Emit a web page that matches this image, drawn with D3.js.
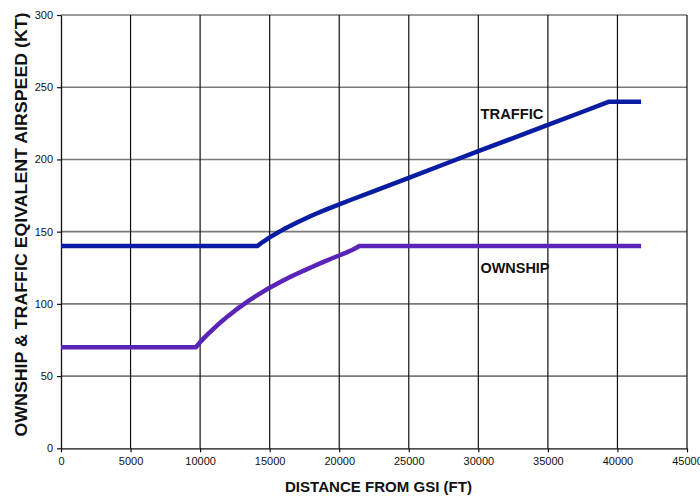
<!DOCTYPE html>
<html>
<head>
<meta charset="utf-8">
<script src="https://cdn.jsdelivr.net/npm/d3@7"></script>
<style>
  html, body { margin: 0; padding: 0; background: #fff; }
  svg { display: block; font-family: Arial, "Liberation Sans", sans-serif; }
</style>
</head>
<body>
<svg id="chart" width="700" height="496"></svg>
<script>
// Distance from GSI (ft) vs. equivalent airspeed (kt)
const trafficDist  = [0, 14100, 14500, 15000, 15500, 16000, 16500, 17000, 17500, 18000, 18500, 19000, 19500, 20000, 21000, 22500, 25000, 27500, 30000, 32500, 35000, 37500, 39400, 41700];
const trafficSpeed = [140, 140, 142.8, 146, 148.9, 151.6, 154.1, 156.5, 158.8, 161.0, 163.1, 165.1, 167.0, 168.9, 172.6, 178.0, 187.2, 196.5, 205.7, 214.8, 223.9, 233.0, 240, 240];

const ownDist  = [0, 9700, 10000, 10500, 11000, 11500, 12000, 12500, 13000, 13500, 14000, 14500, 15000, 15500, 16000, 16500, 17000, 17500, 18000, 18500, 19000, 19500, 20000, 20500, 21000, 21450, 41700];
const ownSpeed = [70, 70, 73.5, 78.5, 83, 87.5, 91.5, 95.3, 98.8, 102.2, 105.3, 108.3, 111.2, 113.8, 116.3, 118.7, 121.0, 123.2, 125.4, 127.5, 129.6, 131.6, 133.5, 135.5, 137.6, 140, 140];

const xTicks = [0, 5000, 10000, 15000, 20000, 25000, 30000, 35000, 40000, 45000];
const yTicks = [0, 50, 100, 150, 200, 250, 300];

const seriesLabels = ["TRAFFIC", "OWNSHIP"];
const xTitle = "DISTANCE FROM GSI (FT)";
const yTitle = "OWNSHIP & TRAFFIC EQIVALENT AIRSPEED (KT)";

const svg = d3.select("#chart");
const plot = { left: 61, right: 687, top: 15, bottom: 448.3 };

const x = d3.scaleLinear().domain([0, 45000]).range([plot.left, plot.right]);
const y = d3.scaleLinear().domain([0, 300]).range([plot.bottom, plot.top]);

// horizontal gridlines (gray)
svg.append("g").selectAll("line")
  .data(yTicks.filter(d => d > 0))
  .join("line")
  .attr("x1", plot.left).attr("x2", plot.right)
  .attr("y1", d => y(d)).attr("y2", d => y(d))
  .attr("stroke", "#7a7a7a").attr("stroke-width", 1.6);

// vertical gridlines (black)
svg.append("g").selectAll("line")
  .data(xTicks.filter(d => d > 0))
  .join("line")
  .attr("x1", d => x(d)).attr("x2", d => x(d))
  .attr("y1", plot.top).attr("y2", plot.bottom)
  .attr("stroke", "#111").attr("stroke-width", 1.2);

// x axis
const xAxis = svg.append("g")
  .attr("transform", `translate(0,${plot.bottom})`)
  .call(d3.axisBottom(x).tickValues(xTicks).tickSize(4).tickSizeOuter(0).tickFormat(d3.format("d")));
xAxis.select(".domain").attr("stroke", "#111").attr("stroke-width", 1.3);
xAxis.selectAll(".tick line").attr("stroke", "#111").attr("stroke-width", 1.2);
xAxis.selectAll("text").attr("font-size", 11).attr("fill", "#111").attr("dy", "0.9em")
  .attr("font-family", "Arial, 'Liberation Sans', sans-serif");

// y axis
const yAxis = svg.append("g")
  .attr("transform", `translate(${plot.left},0)`)
  .call(d3.axisLeft(y).tickValues(yTicks).tickSize(4).tickSizeOuter(0).tickPadding(4));
yAxis.select(".domain").attr("stroke", "#111").attr("stroke-width", 1.3);
yAxis.selectAll(".tick line").attr("stroke", "#111").attr("stroke-width", 1.2);
yAxis.selectAll("text").attr("font-size", 11).attr("fill", "#111")
  .attr("font-family", "Arial, 'Liberation Sans', sans-serif");

const line = d3.line().x(d => x(d[0])).y(d => y(d[1]));

svg.append("path")
  .datum(trafficDist.map((d, i) => [d, trafficSpeed[i]]))
  .attr("d", line)
  .attr("fill", "none").attr("stroke", "#0a1ca2").attr("stroke-width", 4.5)
  .attr("stroke-linejoin", "round");

svg.append("path")
  .datum(ownDist.map((d, i) => [d, ownSpeed[i]]))
  .attr("d", line)
  .attr("fill", "none").attr("stroke", "#5a24b6").attr("stroke-width", 4.5)
  .attr("stroke-linejoin", "round");

// series labels
svg.append("text").attr("x", 480.5).attr("y", 119.3)
  .attr("font-size", 14.5).attr("font-weight", "bold").attr("fill", "#111")
  .attr("textLength", 63).attr("lengthAdjust", "spacingAndGlyphs")
  .text(seriesLabels[0]);
svg.append("text").attr("x", 480.5).attr("y", 273.3)
  .attr("font-size", 14.5).attr("font-weight", "bold").attr("fill", "#111")
  .attr("textLength", 69).attr("lengthAdjust", "spacingAndGlyphs")
  .text(seriesLabels[1]);

// axis titles
svg.append("text").attr("x", 378.5).attr("y", 491.7)
  .attr("text-anchor", "middle").attr("font-size", 15).attr("font-weight", "bold").attr("fill", "#111")
  .attr("textLength", 187).attr("lengthAdjust", "spacingAndGlyphs")
  .text(xTitle);
svg.append("text")
  .attr("transform", "translate(26.5,224.5) rotate(-90)")
  .attr("text-anchor", "middle").attr("font-size", 16).attr("font-weight", "bold").attr("fill", "#111")
  .attr("textLength", 424).attr("lengthAdjust", "spacingAndGlyphs")
  .text(yTitle);
</script>
</body>
</html>
